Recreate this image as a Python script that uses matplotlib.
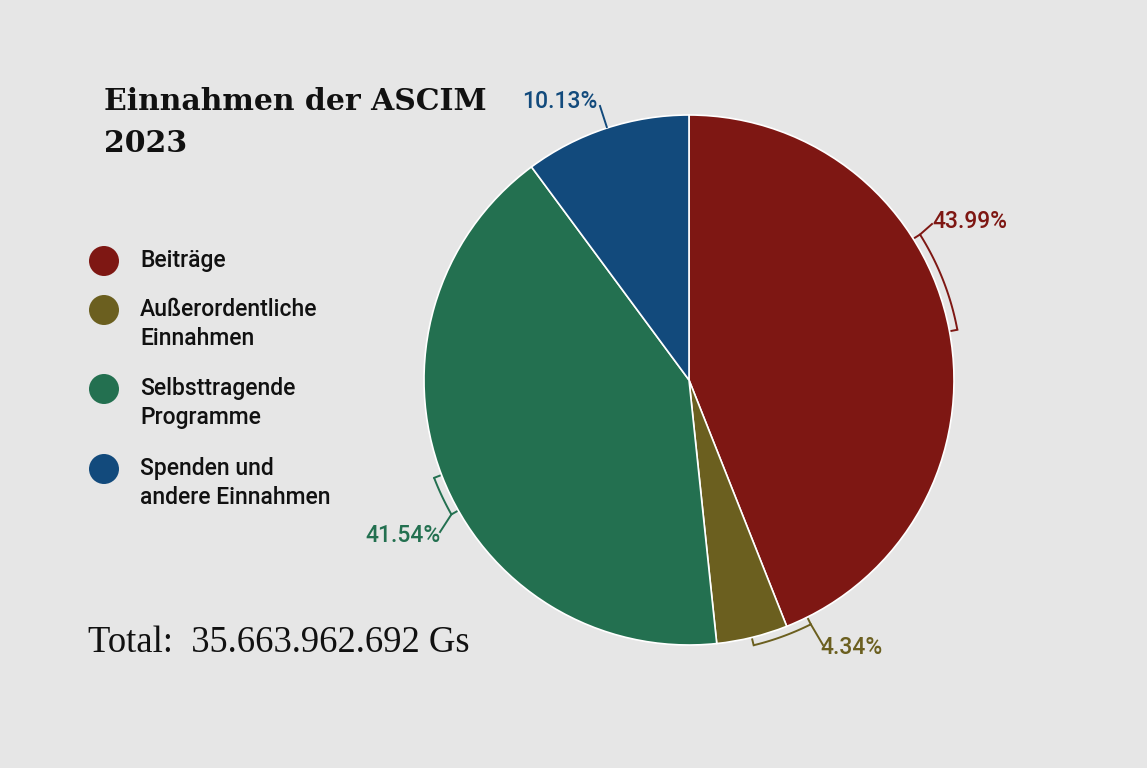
import numpy as np
import matplotlib
matplotlib.use("Agg")
import matplotlib.pyplot as plt
from matplotlib.patches import Circle

# ---- data ----
categories = ['Beiträge', 'Außerordentliche\nEinnahmen', 'Selbsttragende\nProgramme',
              'Spenden und\nandere Einnahmen']
shares = [43.99, 4.34, 41.54, 10.13]
pct_labels = ['43.99%', '4.34%', '41.54%', '10.13%']
colors = ['#7E1713', '#6B5F1F', '#237050', '#124A7C']
title_lines = ['Einnahmen der ASCIM', '2023']
total_text = 'Total:  35.663.962.692 Gs'

W, H = 1147, 768
BG = '#E6E6E6'
fig = plt.figure(figsize=(W / 100, H / 100), dpi=100, facecolor=BG)
ax = fig.add_axes([0, 0, 1, 1])
ax.set_facecolor(BG)

cx, cy, R = 689, H - 380, 265
ax.pie(shares, colors=colors, startangle=90, counterclock=False,
       center=(cx, cy), radius=R, frame=True,
       wedgeprops=dict(edgecolor='white', linewidth=1.2))
ax.set_xlim(0, W)
ax.set_ylim(0, H)
ax.set_aspect('equal')
ax.axis('off')

# bracket layout: (start angle, end angle, leader end (px), label pos (px), ha)
brackets = [
    (10.6, 32.2, (932, 224), (932, 222), 'left'),
    (-76.3, -63.5, (823, 645), (820, 648), 'left'),
    (201.0, 209.5, (440, 532), (441, 535), 'right'),
    (108.0, 108.0, (600, 106), (598, 102), 'right'),
]
rb = R + 8
for (a0, a1, lead, lab, ha), col, txt in zip(brackets, colors, pct_labels):
    if a1 > a0:
        th = np.radians(np.linspace(a0, a1, 40))
        ax.plot(cx + rb * np.cos(th), cy + rb * np.sin(th), color=col, lw=1.4,
                solid_capstyle='butt')
        for a in (a0, a1):
            t = np.radians(a)
            ax.plot([cx + rb * np.cos(t), cx + (R + 2) * np.cos(t)],
                    [cy + rb * np.sin(t), cy + (R + 2) * np.sin(t)], color=col, lw=1.4)
        t = np.radians(a1)
        start = (cx + rb * np.cos(t), cy + rb * np.sin(t))
    else:
        t = np.radians(a0)
        start = (cx + (R + 1) * np.cos(t), cy + (R + 1) * np.sin(t))
    ax.plot([start[0], lead[0]], [start[1], H - lead[1]], color=col, lw=1.4)
    ax.text(lab[0], H - lab[1], txt, color=col, ha=ha, va='center',
            fontsize=16.5, family='Roboto', fontweight='medium')

# title
for i, line in enumerate(title_lines):
    ax.text(104, H - 102 - 42 * i, line, fontsize=21.5, fontweight='bold',
            family='DejaVu Serif', color='#111111', va='center', ha='left')

# legend
leg_y = [261, 310, 389, 469]
for y, col, lab in zip(leg_y, colors, categories):
    ax.add_patch(Circle((104, H - y), 15, color=col, lw=0))
    ax.text(140, H - y + 12, lab, fontsize=16.5, family='Roboto', fontweight='medium',
            color='#111111', va='top', ha='left', linespacing=1.36)

# total
ax.text(88, H - 643, total_text, fontsize=26.4, family='Liberation Serif',
        color='#111111', va='center', ha='left')

fig.savefig('out.png', dpi=100, facecolor=BG)
